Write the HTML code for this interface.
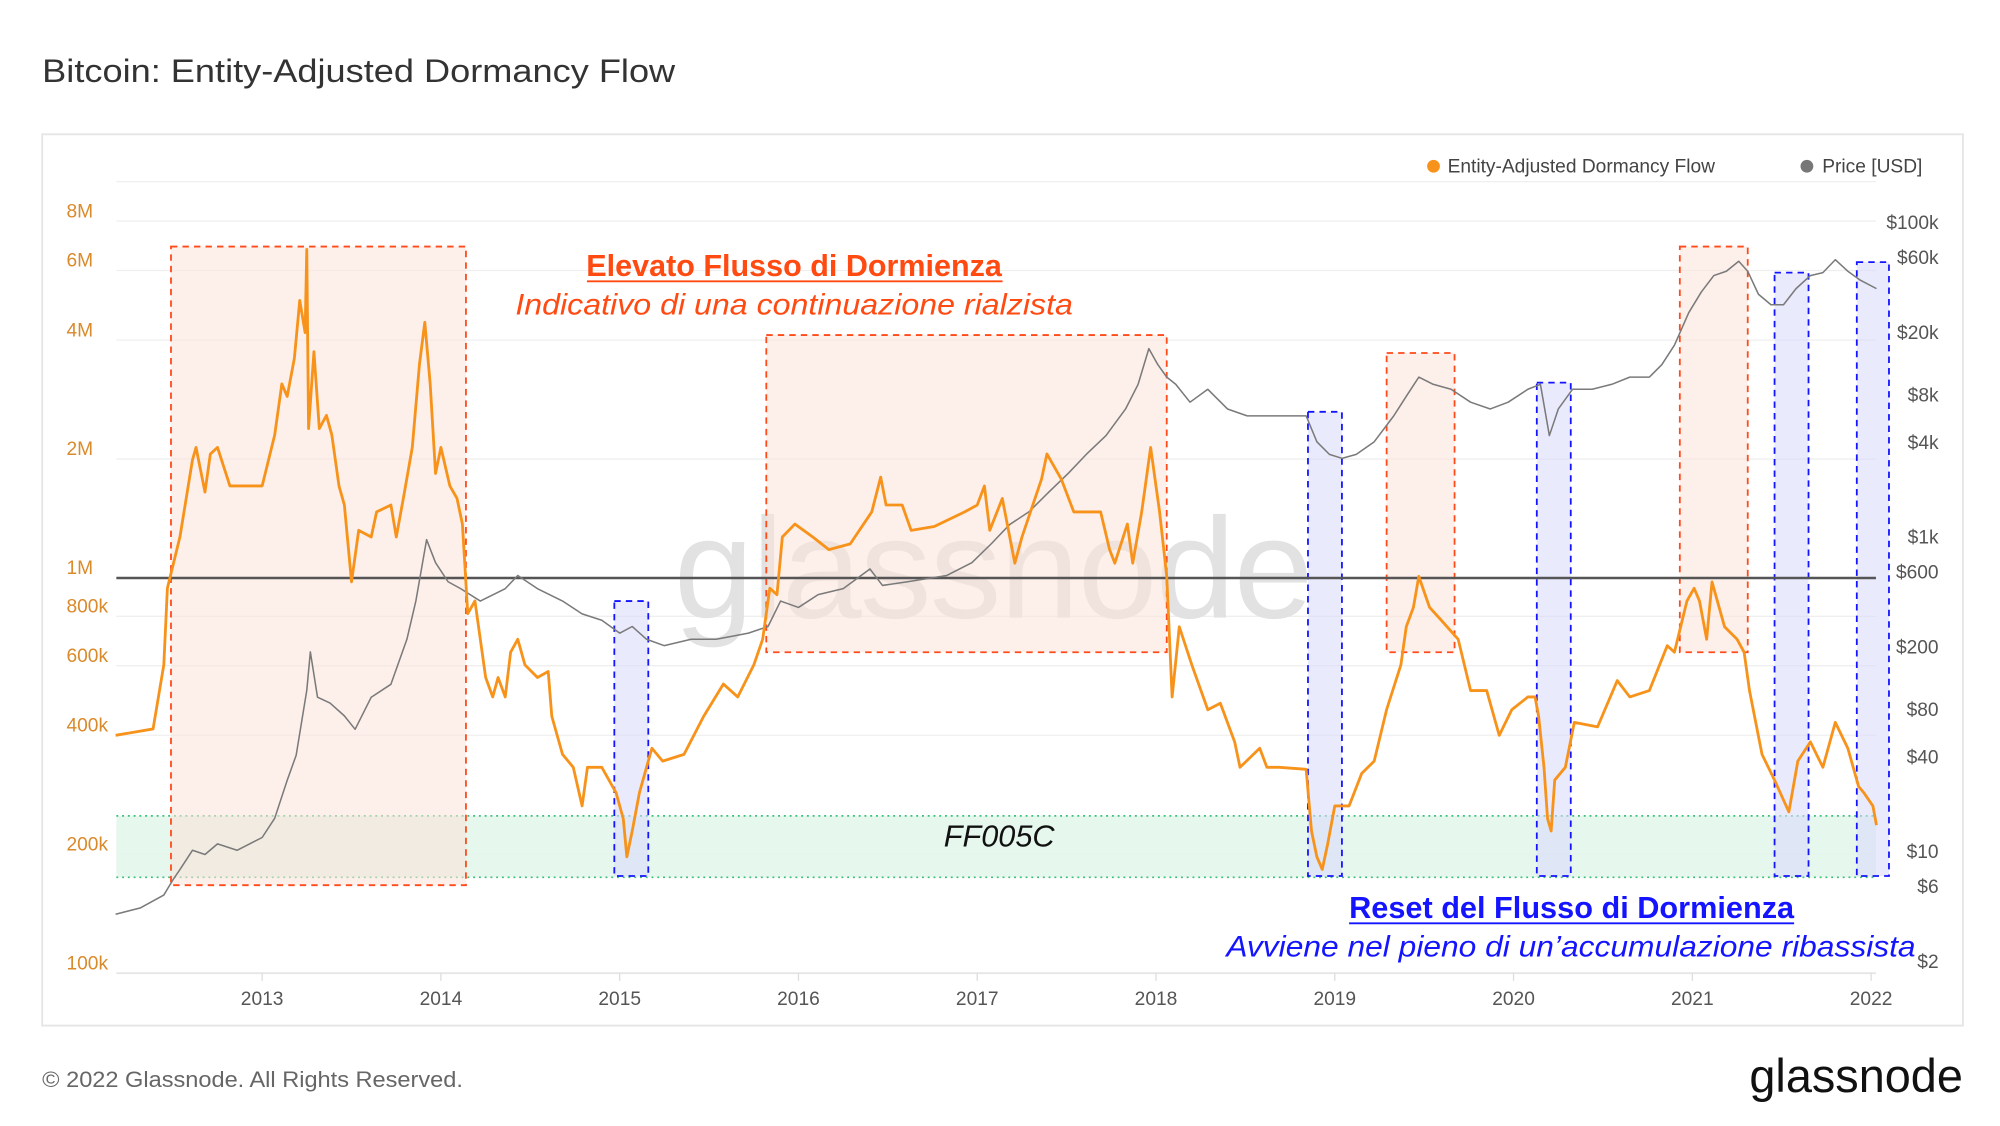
<!DOCTYPE html>
<html><head><meta charset="utf-8"><style>
html,body{margin:0;padding:0;background:#fff;}
svg{display:block;font-family:"Liberation Sans",sans-serif;}
</style></head><body>
<svg id="chart" width="2000" height="1126" viewBox="0 0 1564 880.5" preserveAspectRatio="none" xmlns="http://www.w3.org/2000/svg">
<text x="33" y="64" font-size="25" fill="#333" textLength="495" lengthAdjust="spacingAndGlyphs">Bitcoin: Entity-Adjusted Dormancy Flow</text>
<rect x="33" y="105" width="1502" height="697" fill="#fff" stroke="#e6e6e6" stroke-width="1.5"/>
<g font-size="15" fill="#444">
<circle cx="1121" cy="130" r="5" fill="#f7931a"/>
<text x="1132" y="135">Entity-Adjusted Dormancy Flow</text>
<circle cx="1413" cy="130" r="5" fill="#777"/>
<text x="1425" y="135">Price [USD]</text>
</g>
<g id="grid"></g>
<text x="777" y="483" font-size="112" fill="#e2e2e2" text-anchor="middle" textLength="500">glassnode</text>
<rect x="91" y="638" width="1376" height="48" fill="#e3f6ec" opacity="0.9"/>
<line x1="91" y1="638" x2="1467" y2="638" stroke="#3cbf7a" stroke-dasharray="1.5 3" stroke-width="1.3"/>
<line x1="91" y1="686" x2="1467" y2="686" stroke="#3cbf7a" stroke-dasharray="1.5 3" stroke-width="1.3"/>
<g id="boxes"></g>
<line x1="91" y1="452" x2="1467" y2="452" stroke="#555" stroke-width="2"/>
<g id="series"></g>
<g id="axes"></g>
<text x="738" y="662" font-size="24" font-style="italic" fill="#111">FF005C</text>
<text x="621" y="216" font-size="24" font-weight="bold" fill="#ff4a12" text-anchor="middle" textLength="325" lengthAdjust="spacingAndGlyphs">Elevato Flusso di Dormienza</text>
<line x1="459" y1="220" x2="784" y2="220" stroke="#ff4a12" stroke-width="1.5"/>
<text x="621" y="246" font-size="23" font-style="italic" fill="#ff4a12" text-anchor="middle" textLength="436" lengthAdjust="spacingAndGlyphs">Indicativo di una continuazione rialzista</text>
<text x="1229" y="718" font-size="24" font-weight="bold" fill="#1414ff" text-anchor="middle" textLength="348" lengthAdjust="spacingAndGlyphs">Reset del Flusso di Dormienza</text>
<line x1="1055" y1="722" x2="1403" y2="722" stroke="#1414ff" stroke-width="1.5"/>
<text x="1498" y="748" font-size="23" font-style="italic" fill="#1414ff" text-anchor="end" textLength="539" lengthAdjust="spacingAndGlyphs">Avviene nel pieno di un’accumulazione ribassista</text>
<text x="33" y="850" font-size="17" fill="#666" textLength="329" lengthAdjust="spacingAndGlyphs">© 2022 Glassnode. All Rights Reserved.</text>
<text x="1535" y="854" font-size="37" fill="#111" text-anchor="end" textLength="167" lengthAdjust="spacingAndGlyphs">glassnode</text>
</svg>
<script>
const flowYears=[2012.18,2012.39,2012.45,2012.47,2012.54,2012.61,2012.63,2012.68,2012.71,2012.75,2012.82,2012.93,2013.00,2013.07,2013.11,2013.14,2013.18,2013.21,2013.24,2013.25,2013.26,2013.29,2013.32,2013.36,2013.39,2013.43,2013.46,2013.50,2013.54,2013.61,2013.64,2013.72,2013.75,2013.79,2013.84,2013.88,2013.91,2013.94,2013.97,2014.00,2014.05,2014.09,2014.12,2014.15,2014.19,2014.25,2014.29,2014.32,2014.36,2014.39,2014.43,2014.47,2014.54,2014.60,2014.62,2014.68,2014.74,2014.79,2014.82,2014.90,2014.98,2015.02,2015.04,2015.07,2015.11,2015.15,2015.18,2015.24,2015.36,2015.47,2015.58,2015.66,2015.75,2015.80,2015.84,2015.88,2015.91,2015.98,2016.08,2016.17,2016.29,2016.41,2016.46,2016.49,2016.58,2016.63,2016.76,2016.93,2017.00,2017.04,2017.07,2017.14,2017.21,2017.25,2017.36,2017.39,2017.47,2017.54,2017.61,2017.69,2017.74,2017.77,2017.84,2017.87,2017.92,2017.97,2018.02,2018.06,2018.09,2018.13,2018.20,2018.29,2018.36,2018.44,2018.47,2018.58,2018.62,2018.69,2018.84,2018.87,2018.90,2018.93,2018.96,2019.00,2019.08,2019.15,2019.22,2019.29,2019.37,2019.40,2019.44,2019.47,2019.53,2019.60,2019.69,2019.76,2019.85,2019.92,2019.99,2020.08,2020.12,2020.14,2020.17,2020.19,2020.21,2020.23,2020.29,2020.34,2020.47,2020.58,2020.65,2020.76,2020.86,2020.90,2020.97,2021.01,2021.04,2021.08,2021.11,2021.18,2021.25,2021.29,2021.32,2021.39,2021.46,2021.54,2021.59,2021.66,2021.73,2021.80,2021.87,2021.93,2021.96,2022.01,2022.03];
const flowValuesK=[400,415,603,942,1270,1990,2140,1650,2060,2140,1710,1710,1710,2300,3100,2880,3600,5040,4180,6790,2390,3740,2390,2580,2300,1710,1530,978,1320,1270,1470,1530,1270,1590,2140,3470,4440,3100,1840,2140,1710,1590,1370,812,875,560,500,560,500,649,700,603,560,580,447,358,332,265,332,332,286,246,197,229,286,332,371,344,358,447,539,500,603,700,942,908,1270,1370,1270,1180,1220,1470,1800,1530,1530,1320,1350,1470,1530,1710,1320,1590,1090,1270,1780,2060,1780,1470,1470,1470,1180,1090,1370,1090,1470,2140,1470,1010,500,753,603,464,482,385,332,371,332,332,328,229,197,183,212,265,265,320,344,464,603,753,843,1010,843,778,700,519,519,400,464,500,500,447,332,246,229,308,332,431,420,550,500,519,674,649,875,942,875,700,978,753,700,649,519,358,308,256,344,385,332,431,371,297,286,265,237];
const priceYears=[2012.18,2012.32,2012.45,2012.50,2012.54,2012.61,2012.68,2012.75,2012.86,2013.00,2013.07,2013.14,2013.19,2013.25,2013.27,2013.31,2013.38,2013.46,2013.52,2013.61,2013.72,2013.81,2013.86,2013.92,2013.97,2014.04,2014.11,2014.22,2014.36,2014.43,2014.54,2014.68,2014.79,2014.90,2015.00,2015.07,2015.15,2015.25,2015.40,2015.54,2015.72,2015.83,2015.90,2016.00,2016.11,2016.25,2016.40,2016.47,2016.61,2016.83,2016.97,2017.08,2017.18,2017.29,2017.40,2017.51,2017.61,2017.72,2017.83,2017.90,2017.96,2018.01,2018.06,2018.11,2018.19,2018.29,2018.40,2018.51,2018.65,2018.76,2018.84,2018.90,2018.97,2019.04,2019.12,2019.22,2019.33,2019.40,2019.47,2019.55,2019.65,2019.76,2019.87,2019.97,2020.08,2020.15,2020.20,2020.25,2020.33,2020.44,2020.55,2020.65,2020.76,2020.83,2020.90,2020.98,2021.05,2021.12,2021.19,2021.26,2021.31,2021.37,2021.44,2021.51,2021.58,2021.66,2021.73,2021.80,2021.87,2021.94,2022.03];
const priceValues=[4.0,4.4,5.3,6.6,7.7,10.2,9.6,11.2,10.2,12.3,16.3,28.5,41,106,186,96,88,73,60,96,116,224,392,963,688,520,470,392,470,570,470,392,325,296,245,270,224,204,224,224,245,270,392,357,431,470,627,493,520,570,688,910,1200,1450,1930,2550,3360,4420,6520,9370,15800,12500,10400,9370,7200,8700,6520,5900,5900,5900,5900,4030,3360,3170,3360,4030,5900,7850,10400,9370,8700,7200,6520,7200,8700,9370,4420,6520,8700,8700,9370,10400,10400,12500,16600,26700,36100,46000,49000,56700,49000,35000,30000,30000,38000,46000,48000,58000,49000,43000,38000];
const leftTicks=[100000,200000,400000,600000,800000,1000000,2000000,4000000,6000000,8000000];
const leftTickLabels=["100k","200k","400k","600k","800k","1M","2M","4M","6M","8M"];
const rightTicks=[2,6,10,40,80,200,600,1000,4000,8000,20000,60000,100000];
const rightTickLabels=["$2","$6","$10","$40","$80","$200","$600","$1k","$4k","$8k","$20k","$60k","$100k"];
const xTicks=[2013,2014,2015,2016,2017,2018,2019,2020,2021,2022];
const highFlowPeriods=[[2012.49,2014.14,6.9e6,167000],[2015.82,2018.06,4.12e6,649000],[2019.29,2019.67,3.71e6,649000],[2020.93,2021.31,6.9e6,649000]];
const resetPeriods=[[2014.97,2015.16],[2018.85,2019.04],[2020.13,2020.32],[2021.46,2021.65],[2021.92,2022.10]];
const resetTops=[392,6260,9600,48000,56000];

const NS="http://www.w3.org/2000/svg";
const xs=y=>205+(y-2013)*139.8;
const yl=v=>452-309*Math.log10(v/1e6);
const yp=p=>666-123*Math.log10(p/10);
function mk(tag,attrs,parent){const e=document.createElementNS(NS,tag);for(const k in attrs)e.setAttribute(k,attrs[k]);parent.appendChild(e);return e;}
const grid=document.getElementById('grid'),axes=document.getElementById('axes'),boxes=document.getElementById('boxes'),series=document.getElementById('series');
mk('line',{x1:91,y1:142,x2:1467,y2:142,stroke:'#efefef','stroke-width':1},grid);
leftTicks.forEach((t,i)=>{
  const y=yl(t);
  const g=mk('line',{x1:91,y1:y,x2:1467,y2:y,stroke:'#efefef','stroke-width':1},grid);
  
  
  const tx=mk('text',{x:52,y:y-3,'font-size':15,fill:'#d98a2b'},axes);
  tx.textContent=leftTickLabels[i];
  
  
});
rightTicks.forEach((t,i)=>{
  const tx=mk('text',{x:1516,y:yp(t)+5,'font-size':15,fill:'#555','text-anchor':'end'},axes);
  tx.textContent=rightTickLabels[i];
  
  
});
const ax=mk('line',{x1:91,y1:761,x2:1467,y2:761,stroke:'#e6e6e6','stroke-width':1.5},axes);


xTicks.forEach(t=>{
  const x=xs(t);
  mk('line',{x1:x,y1:761,x2:x,y2:767,stroke:'#ddd'},axes);
  const tx=mk('text',{x:x,y:786,'font-size':15,fill:'#555','text-anchor':'middle'},axes);
  tx.textContent=String(t);
  
  
});
highFlowPeriods.forEach(p=>{
  const x1=xs(p[0]),x2=xs(p[1]),y1=yl(p[2]),y2=yl(p[3]);
  const r=mk('rect',{x:x1,y:y1,width:x2-x1,height:y2-y1,fill:'#fbe2d8','fill-opacity':0.55,stroke:'#ff4a1a','stroke-width':1.4,'stroke-dasharray':'5 4'},boxes);
  
  
});
resetPeriods.forEach((p,i)=>{
  const x1=xs(p[0]),x2=xs(p[1]);
  const top=yp(resetTops[i]);
  const r=mk('rect',{x:x1,y:top,width:x2-x1,height:685-top,fill:'#d8d8fb','fill-opacity':0.55,stroke:'#1414ff','stroke-width':1.4,'stroke-dasharray':'5 4'},boxes);
  
  
});
const pd=priceYears.map((y,i)=>(i?'L':'M')+xs(y).toFixed(1)+','+yp(priceValues[i]).toFixed(1)).join('');
const pl=mk('path',{d:pd,fill:'none',stroke:'#7a7a7a','stroke-width':1.2,'stroke-linejoin':'round'},series);


const fd=flowYears.map((y,i)=>(i?'L':'M')+xs(y).toFixed(1)+','+yl(flowValuesK[i]*1000).toFixed(1)).join('');
const fl=mk('path',{d:fd,fill:'none',stroke:'#f7931a','stroke-width':2.2,'stroke-linejoin':'round'},series);


</script>
</body></html>
